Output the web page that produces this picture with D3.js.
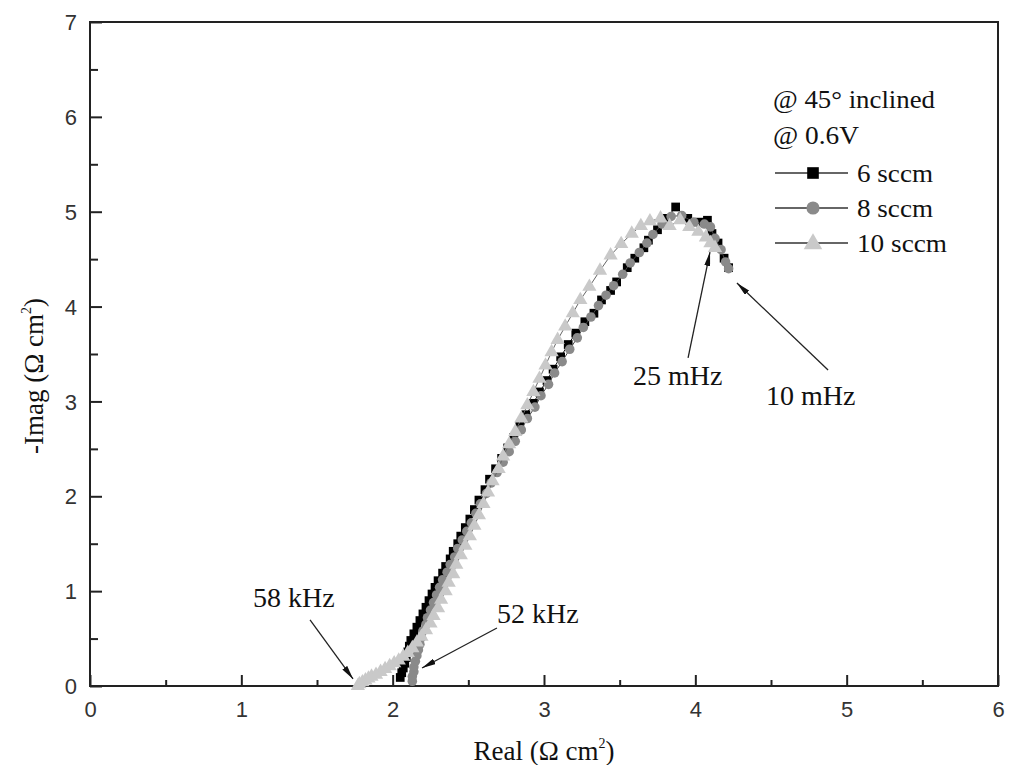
<!DOCTYPE html>
<html><head><meta charset="utf-8">
<script src="https://cdn.jsdelivr.net/npm/d3@7"></script>
<style>body{margin:0;background:#fff}svg{display:block}</style>
</head><body>
<svg id="chart" width="1013" height="765"></svg>
<script>
// ---- data (Real, -Imag) in ohm cm^2 ----
const seriesNames = ["6 sccm", "8 sccm", "10 sccm"];
const sccm6 = [[2.05,0.09],[2.06,0.14],[2.07,0.19],[2.08,0.24],[2.09,0.30],[2.10,0.36],[2.11,0.42],[2.12,0.48],[2.14,0.55],[2.16,0.62],[2.18,0.69],[2.20,0.76],[2.22,0.83],[2.24,0.90],[2.26,0.97],[2.28,1.04],[2.30,1.11],[2.33,1.19],[2.35,1.26],[2.38,1.34],[2.40,1.42],[2.43,1.50],[2.45,1.58],[2.48,1.67],[2.51,1.76],[2.54,1.86],[2.57,1.96],[2.61,2.07],[2.64,2.18],[2.68,2.29],[2.72,2.40],[2.76,2.51],[2.80,2.62],[2.84,2.74],[2.88,2.86],[2.93,2.98],[2.97,3.10],[3.02,3.22],[3.06,3.34],[3.11,3.47],[3.16,3.60],[3.21,3.72],[3.27,3.84],[3.33,3.93],[3.38,4.07],[3.44,4.17],[3.48,4.26],[3.55,4.41],[3.60,4.51],[3.66,4.62],[3.69,4.70],[3.75,4.81],[3.81,4.93],[3.87,5.05],[3.95,4.93],[4.03,4.89],[4.08,4.91],[4.11,4.77],[4.15,4.67],[4.19,4.51],[4.22,4.41]];
const sccm8 = [[2.13,0.05],[2.13,0.10],[2.14,0.15],[2.14,0.20],[2.15,0.26],[2.16,0.32],[2.17,0.38],[2.18,0.44],[2.19,0.51],[2.20,0.58],[2.22,0.65],[2.23,0.72],[2.25,0.80],[2.27,0.88],[2.29,0.96],[2.31,1.04],[2.33,1.12],[2.36,1.20],[2.38,1.28],[2.41,1.36],[2.43,1.45],[2.46,1.54],[2.49,1.63],[2.52,1.72],[2.55,1.82],[2.58,1.92],[2.62,2.03],[2.65,2.14],[2.69,2.25],[2.73,2.36],[2.77,2.47],[2.81,2.58],[2.85,2.70],[2.89,2.82],[2.94,2.94],[2.98,3.06],[3.03,3.18],[3.07,3.30],[3.12,3.42],[3.17,3.55],[3.22,3.67],[3.26,3.78],[3.31,3.89],[3.36,4.01],[3.41,4.12],[3.46,4.22],[3.52,4.34],[3.57,4.46],[3.63,4.57],[3.68,4.67],[3.72,4.76],[3.78,4.87],[3.84,4.95],[3.91,4.96],[3.99,4.89],[4.06,4.87],[4.10,4.84],[4.13,4.72],[4.17,4.60],[4.20,4.47],[4.22,4.40]];
const sccm10 = [[1.77,0.00],[1.78,0.02],[1.80,0.04],[1.82,0.06],[1.84,0.08],[1.86,0.10],[1.89,0.12],[1.92,0.15],[1.95,0.18],[1.98,0.21],[2.01,0.24],[2.04,0.27],[2.07,0.31],[2.10,0.35],[2.13,0.40],[2.16,0.46],[2.19,0.52],[2.22,0.59],[2.25,0.66],[2.27,0.74],[2.30,0.82],[2.32,0.91],[2.35,1.00],[2.37,1.09],[2.40,1.18],[2.42,1.28],[2.45,1.38],[2.48,1.48],[2.51,1.58],[2.54,1.69],[2.57,1.80],[2.60,1.92],[2.63,2.04],[2.66,2.16],[2.70,2.29],[2.73,2.42],[2.77,2.55],[2.81,2.68],[2.85,2.82],[2.89,2.96],[2.93,3.10],[2.97,3.24],[3.01,3.38],[3.05,3.52],[3.09,3.65],[3.14,3.79],[3.19,3.93],[3.24,4.07],[3.30,4.21],[3.37,4.38],[3.44,4.54],[3.51,4.66],[3.58,4.77],[3.64,4.85],[3.70,4.90],[3.77,4.93],[3.83,4.85],[3.90,4.91],[3.96,4.84],[4.02,4.79],[4.07,4.73],[4.10,4.67],[4.13,4.62]];
const xTicks = [0,1,2,3,4,5,6];
const yTicks = [0,1,2,3,4,5,6,7];
const legendHeader = ["@ 45° inclined", "@ 0.6V"];
// annotations: label, text anchor point, arrow tail, arrow head (data units)
const annLabels = ["58 kHz", "52 kHz", "25 mHz", "10 mHz"];
const annTextPos = [[1.077,0.833],[2.689,0.664],[3.588,3.173],[4.467,2.962]];
const annTail = [[1.454,0.696],[2.689,0.611],[3.952,3.458],[4.877,3.331]];
const annHead = [[1.738,0.074],[2.194,0.190],[4.097,4.575],[4.275,4.248]];

const svg = d3.select("#chart");
const x = d3.scaleLinear().domain([0,6]).range([90,998]);
const y = d3.scaleLinear().domain([0,7]).range([686,22]);
const axisColor = "#222";
const serif = "'Liberation Serif','Times New Roman',serif";
const sans = "'Liberation Sans',Arial,sans-serif";

// frame
svg.append("rect").attr("x",x(0)).attr("y",y(7)).attr("width",x(6)-x(0)).attr("height",y(0)-y(7))
  .attr("fill","none").attr("stroke",axisColor).attr("stroke-width",2);

// axes (ticks inward)
const gx = svg.append("g").attr("transform",`translate(0,${y(0)})`)
  .call(d3.axisBottom(x).tickValues(xTicks).tickSize(-11).tickPadding(20).tickFormat(d3.format("d")));
const gxm = svg.append("g").attr("transform",`translate(0,${y(0)})`)
  .call(d3.axisBottom(x).tickValues(d3.range(0.5,6,1)).tickSize(-6).tickFormat(""));
const gy = svg.append("g").attr("transform",`translate(${x(0)},0)`)
  .call(d3.axisLeft(y).tickValues(yTicks).tickSize(-12).tickPadding(13).tickFormat(d3.format("d")));
const gym = svg.append("g").attr("transform",`translate(${x(0)},0)`)
  .call(d3.axisLeft(y).tickValues(d3.range(0.5,7,1)).tickSize(-8).tickFormat(""));
[gx,gxm,gy,gym].forEach(g=>{
  g.select(".domain").remove();
  g.selectAll(".tick line").attr("stroke",axisColor).attr("stroke-width",2);
  g.selectAll(".tick text").attr("fill","#333").style("font-family",sans).style("font-size","22px");
});
gx.selectAll(".tick text").attr("dy","0.5em");
gy.selectAll(".tick text").attr("dy","0.35em");

// axis titles
const xt = svg.append("text").attr("x",544).attr("y",760).attr("text-anchor","middle")
  .style("font-family",serif).style("font-size","27px").attr("fill","#111");
xt.append("tspan").text("Real (Ω cm");
xt.append("tspan").attr("dy",-12).style("font-size","14px").text("2");
xt.append("tspan").attr("dy",12).text(")");
const yt = svg.append("text").attr("transform","translate(43,376) rotate(-90)").attr("text-anchor","middle")
  .style("font-family",serif).style("font-size","27px").attr("fill","#111");
yt.append("tspan").text("-Imag (Ω cm");
yt.append("tspan").attr("dy",-12).style("font-size","14px").text("2");
yt.append("tspan").attr("dy",12).text(")");

// series
const styles = [
  {data:sccm6, sym:d3.symbolSquare, size:76, fill:"#000", line:"#111"},
  {data:sccm8, sym:d3.symbolCircle, size:72, fill:"#8a8a8a", line:"#444"},
  {data:sccm10, sym:d3.symbolTriangle, size:88, fill:"#c9c9c9", line:"#666"}
];
const line = d3.line().x(d=>x(d[0])).y(d=>y(d[1]));
[0,1,2].forEach(i=>{
  const s = styles[i];
  const g = svg.append("g");
  g.append("path").attr("d",line(s.data)).attr("fill","none").attr("stroke",s.line).attr("stroke-width",1);
  g.selectAll("path.m").data(s.data).enter().append("path").attr("class","m")
    .attr("d",d3.symbol().type(s.sym).size(s.size))
    .attr("transform",d=>`translate(${x(d[0])},${y(d[1])})`)
    .attr("fill",s.fill);
});

// annotations
const defs = svg.append("defs");
defs.append("marker").attr("id","ah").attr("viewBox","0 0 14 6").attr("refX",14).attr("refY",3)
  .attr("markerWidth",14).attr("markerHeight",6).attr("markerUnits","userSpaceOnUse").attr("orient","auto")
  .append("path").attr("d","M0,0 L14,3 L0,6 Z").attr("fill","#111");
annLabels.forEach((t,i)=>{
  svg.append("line").attr("x1",x(annTail[i][0])).attr("y1",y(annTail[i][1]))
    .attr("x2",x(annHead[i][0])).attr("y2",y(annHead[i][1]))
    .attr("stroke","#222").attr("stroke-width",1.3).attr("marker-end","url(#ah)");
  svg.append("text").attr("x",x(annTextPos[i][0])).attr("y",y(annTextPos[i][1]))
    .style("font-family",serif).style("font-size","28px").attr("fill","#111").text(t);
});

// legend
const hdrW = [162, 86];
legendHeader.forEach((t,i)=>{
  svg.append("text").attr("x",773).attr("y",108+i*36).style("font-family",serif).style("font-size","26px")
    .attr("fill","#111").attr("textLength",hdrW[i]).attr("lengthAdjust","spacingAndGlyphs").text(t);
});
const legW = [76,76,90];
seriesNames.forEach((n,i)=>{
  const cy = 173 + i*35;
  svg.append("line").attr("x1",775).attr("x2",848).attr("y1",cy).attr("y2",cy).attr("stroke","#333").attr("stroke-width",1.3);
  svg.append("path").attr("d",d3.symbol().type(styles[i].sym).size(i===2?150:135))
    .attr("transform",`translate(813,${cy + (i===2?1:0)})`).attr("fill",styles[i].fill);
  svg.append("text").attr("x",857).attr("y",cy+9).style("font-family",serif).style("font-size","26px")
    .attr("fill","#111").attr("textLength",legW[i]).attr("lengthAdjust","spacingAndGlyphs").text(n);
});
</script>
</body></html>
